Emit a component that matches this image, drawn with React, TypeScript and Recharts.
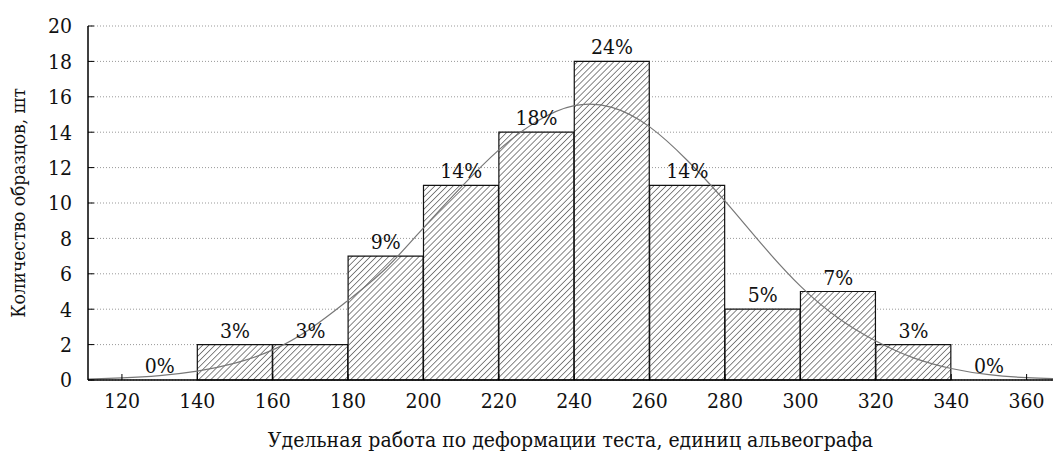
import React from 'react';
import {
  ComposedChart, Bar, Line, XAxis, YAxis, CartesianGrid, LabelList,
} from 'recharts';

// histogram bins (lower bound), counts and percent labels
const binStart = [120, 140, 160, 180, 200, 220, 240, 260, 280, 300, 320, 340];
const counts = [0, 2, 2, 7, 11, 14, 18, 11, 4, 5, 2, 0];
const percents = ['0%', '3%', '3%', '9%', '14%', '18%', '24%', '14%', '5%', '7%', '3%', '0%'];

// fitted normal curve
const fitX = [111, 120, 130, 140, 150, 160, 170, 180, 190, 200, 210, 220, 230, 240, 250, 260, 270, 280, 290, 300, 310, 320, 330, 340, 350, 360, 367];
const fitY = [0.05, 0.12, 0.25, 0.5, 0.95, 1.7, 2.9, 4.5, 6.3, 8.6, 10.9, 13.0, 14.6, 15.5, 15.4, 14.3, 12.4, 10.1, 7.6, 5.3, 3.5, 2.2, 1.25, 0.65, 0.3, 0.13, 0.08];

const xTicks = [120, 140, 160, 180, 200, 220, 240, 260, 280, 300, 320, 340, 360];
const yTicks = [0, 2, 4, 6, 8, 10, 12, 14, 16, 18, 20];

const X_DOMAIN = [111, 367];
const FONT = "'DejaVu Serif Condensed', 'DejaVu Serif', serif";

const barData = binStart.map((s, i) => ({ mid: s + 10, count: counts[i], pct: percents[i] }));
const fitData = fitX.map((x, i) => ({ x, y: fitY[i] }));

const tickStyle = { fill: '#111', fontSize: 21, fontFamily: FONT };

export default function App() {
  return (
    <div style={{ position: 'absolute', left: 0, top: 0, width: 1056, height: 452, background: '#fff', fontFamily: FONT }}>
      <ComposedChart
        width={1056}
        height={452}
        data={barData}
        barCategoryGap={0}
        margin={{ top: 26, right: 3, bottom: 0, left: 0 }}
      >
        <defs>
          <pattern id="hatch" patternUnits="userSpaceOnUse" width="4.3" height="4.3" patternTransform="rotate(45)">
            <rect width="4.3" height="4.3" fill="#fff" />
            <line x1="0" y1="0" x2="0" y2="4.3" stroke="#222" strokeWidth="1.1" />
          </pattern>
        </defs>
        <CartesianGrid vertical={false} stroke="#999" strokeDasharray="1 2" />
        <XAxis
          dataKey="mid"
          type="number"
          domain={X_DOMAIN}
          ticks={xTicks}
          allowDataOverflow
          height={72}
          axisLine={{ stroke: '#000', strokeWidth: 1.5 }}
          tickLine={{ stroke: '#000' }}
          tickSize={-6}
          tickMargin={19}
          tick={tickStyle}
          label={{
            value: 'Удельная работа по деформации теста, единиц альвеографа',
            position: 'insideBottom',
            offset: 5,
            style: { fill: '#111', fontSize: 21, fontFamily: FONT },
          }}
        />
        <XAxis
          xAxisId="top"
          orientation="top"
          type="number"
          domain={X_DOMAIN}
          ticks={xTicks}
          allowDataOverflow
          height={0}
          axisLine={{ stroke: '#000', strokeWidth: 1.5 }}
          tickLine={{ stroke: '#000' }}
          tickSize={-6}
          tickFormatter={() => ''}
        />
        <XAxis xAxisId="fit" type="number" dataKey="x" domain={X_DOMAIN} allowDataOverflow hide />
        <YAxis
          type="number"
          domain={[0, 20]}
          ticks={yTicks}
          width={88}
          axisLine={{ stroke: '#000', strokeWidth: 1.5 }}
          tickLine={{ stroke: '#000' }}
          tickSize={-6}
          tickMargin={22}
          tick={tickStyle}
          label={{
            value: 'Количество образцов, шт',
            angle: -90,
            position: 'insideLeft',
            offset: 18,
            style: { textAnchor: 'middle', fill: '#111', fontSize: 19, fontFamily: FONT },
          }}
        />
        <YAxis
          yAxisId="right"
          orientation="right"
          type="number"
          domain={[0, 20]}
          ticks={yTicks}
          width={0}
          axisLine={{ stroke: '#000', strokeWidth: 1.5 }}
          tickLine={false}
          tick={false}
        />
        <Bar
          dataKey="count"
          fill="url(#hatch)"
          stroke="#111"
          strokeWidth={1.2}
          isAnimationActive={false}
        />
        <Line
          xAxisId="fit"
          data={fitData}
          dataKey="y"
          type="natural"
          stroke="#777"
          strokeWidth={1.2}
          dot={false}
          isAnimationActive={false}
        />
        {/* invisible series carrying the percent labels, so zero bins get one too */}
        <Line
          dataKey="count"
          stroke="none"
          dot={false}
          activeDot={false}
          legendType="none"
          isAnimationActive={false}
        >
          <LabelList dataKey="pct" position="top" offset={7} style={{ fill: '#111', fontSize: 21, fontFamily: FONT }} />
        </Line>
      </ComposedChart>
    </div>
  );
}
